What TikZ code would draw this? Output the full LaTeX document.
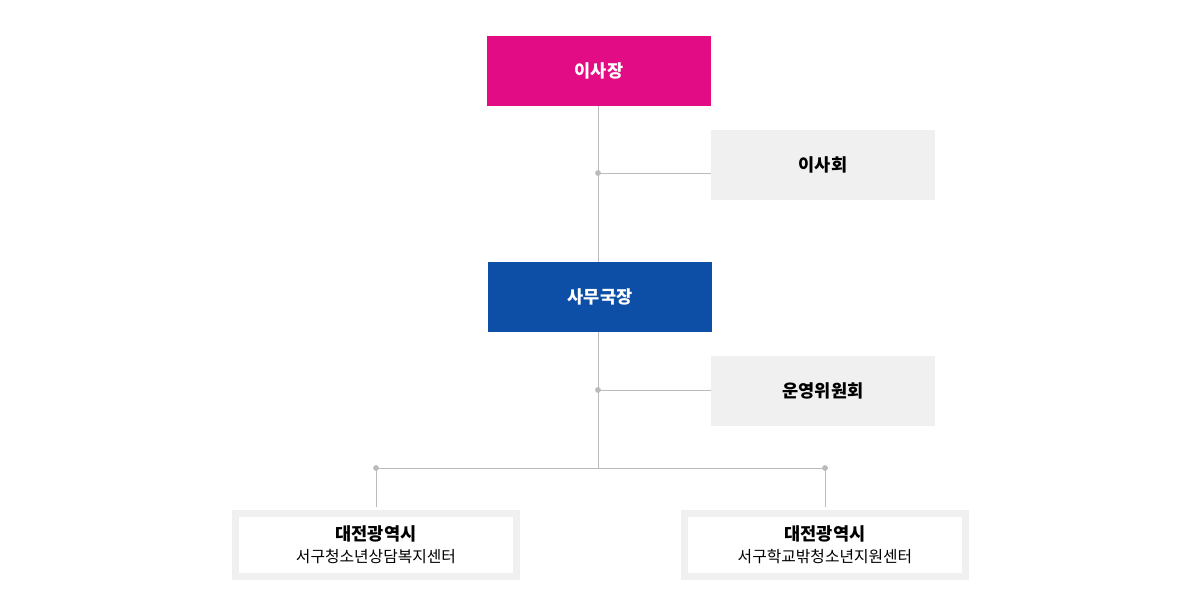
\documentclass[tikz,border=0pt]{standalone}
\usepackage{fontspec}
\setmainfont{Noto Sans CJK KR}
\usetikzlibrary{positioning}
\definecolor{chairpink}{HTML}{E20C84}
\definecolor{chiefblue}{HTML}{0D4FA6}
\definecolor{boardgray}{HTML}{F0F0F0}
\definecolor{linegray}{HTML}{BBBBBB}
\tikzset{
  headbox/.style={minimum width=4.48cm, minimum height=1.4cm, inner sep=0pt, text=white, font=\fontsize{10}{12}\selectfont\bfseries},
  sidebox/.style={fill=boardgray, minimum width=4.48cm, minimum height=1.4cm, inner sep=0pt, font=\fontsize{10}{12}\selectfont\bfseries},
  centerbox/.style={draw=boardgray, line width=0.14cm, fill=white, minimum width=5.62cm, minimum height=1.26cm, inner sep=0pt, align=center, font=\fontsize{9}{12.5}\selectfont},
  link/.style={draw=linegray, line width=0.5pt},
  joint/.style={circle, fill=linegray, inner sep=0pt, minimum size=0.11cm}
}
\begin{document}
\begin{tikzpicture}[x=0.02cm,y=-0.02cm]
    \useasboundingbox (0,0) rectangle (1200,604);
    \node[headbox, fill=chairpink] (chair) at (599,71) {이사장};
    \node[sidebox] (board) at (823,165) {이사회};
    \node[headbox, fill=chiefblue] (chief) at (600,297) {사무국장};
    \node[sidebox] (committee) at (823,391) {운영위원회};
    \node[centerbox] (counsel) at (376,545) {{\fontsize{10}{12}\selectfont\bfseries 대전광역시}\\서구청소년상담복지센터};
    \node[centerbox] (support) at (825,545) {{\fontsize{10}{12}\selectfont\bfseries 대전광역시}\\서구학교밖청소년지원센터};

    \node[joint] (jboard) at (598,173) {};
    \node[joint] (jcommittee) at (598,390) {};
    \coordinate (split) at (598,468);
    \node[joint] (jleft) at (376,468) {};
    \node[joint] (jright) at (825,468) {};

    \draw[link] (chair.south -| jboard) -- (chief.north -| jboard);
    \draw[link] (jboard.center) -- (board.west |- jboard);
    \draw[link] (chief.south -| jcommittee) -- (split);
    \draw[link] (jcommittee.center) -- (committee.west |- jcommittee);
    \draw[link] (jleft.center) -- (jright.center);
    \draw[link] (jleft.center) -- ([yshift=0.07cm]counsel.north);
    \draw[link] (jright.center) -- ([yshift=0.07cm]support.north);
    \node[joint] at (jboard) {};
    \node[joint] at (jcommittee) {};
    \node[joint] at (jleft) {};
    \node[joint] at (jright) {};
\end{tikzpicture}
\end{document}
